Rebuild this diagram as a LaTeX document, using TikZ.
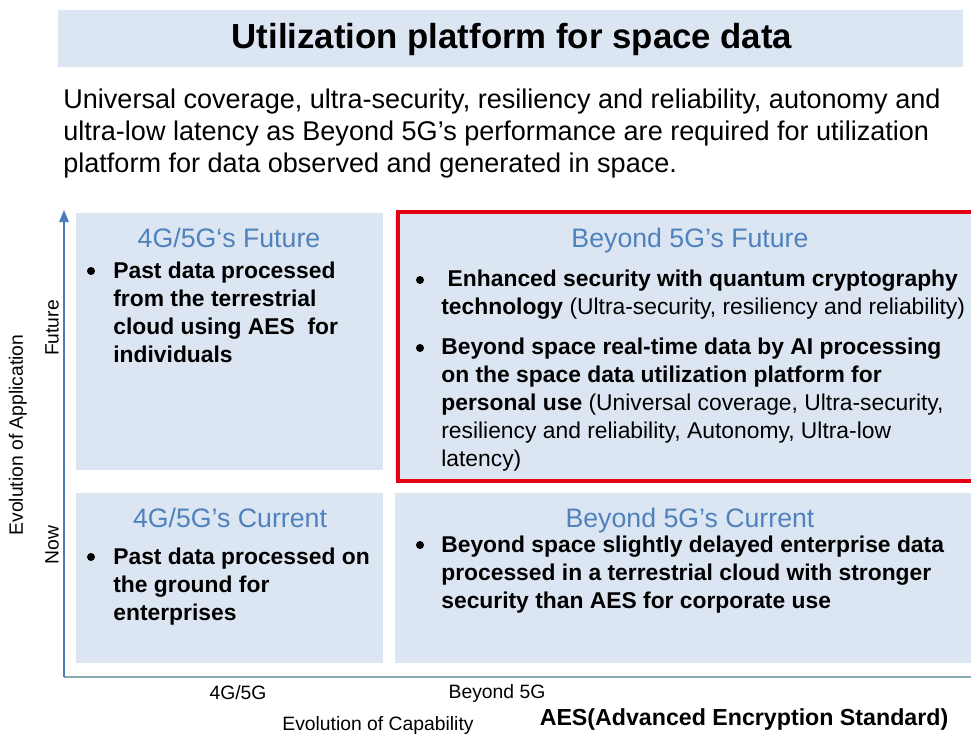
\documentclass[tikz,border=0pt]{standalone}
\usepackage{fontspec}
\setmainfont{Liberation Sans}
\usepackage{tikz}
\usetikzlibrary{arrows.meta}
\definecolor{panelfill}{RGB}{220,230,242}
\definecolor{headblue}{RGB}{79,129,189}
\definecolor{framered}{RGB}{228,0,18}
\definecolor{axisblue}{RGB}{74,126,187}
\definecolor{axisgray}{RGB}{138,168,176}
\tikzset{
  titletext/.style={inner sep=0pt,font=\fontsize{19.8}{24}\selectfont\bfseries},
  introtext/.style={anchor=north west,align=left,inner sep=0pt,font=\fontsize{15.4}{18.21}\selectfont},
  panelhead/.style={anchor=base,inner sep=0pt,text=headblue,font=\fontsize{15.2}{18}\selectfont},
  paneltext/.style={anchor=north west,align=left,inner sep=0pt,font=\fontsize{13}{15.93}\selectfont\bfseries},
  bulletmark/.style={circle,fill=black,inner sep=0pt,minimum size=0.16cm},
  axislabel/.style={inner sep=0pt,font=\fontsize{11}{13}\selectfont},
  axisarrow/.style={-{Triangle[length=0.24cm,width=0.19cm]},draw=axisblue,line width=0.85pt},
  axisline/.style={draw=axisgray,line width=0.9pt},
  redframe/.style={draw=framered,line width=2.3pt}
}

\begin{document}
\begin{tikzpicture}[x=0.02cm,y=-0.02cm]
  \useasboundingbox (0,0) rectangle (971,735);
  \fill[panelfill] (58,10) rectangle (963,67);
  \node[titletext] (title) at (512,39) {Utilization platform for space data};
  \node[introtext] (intro) at (63,89) {Universal coverage, ultra-security, resiliency and reliability, autonomy and\\
    ultra-low latency as Beyond 5G’s performance are required for utilization\\
    platform for data observed and generated in space.};

  \fill[panelfill] (76,213) rectangle (383,470);
  \fill[panelfill] (395,213) rectangle (971,480);
  \fill[panelfill] (76,493) rectangle (383,663);
  \fill[panelfill] (395,493) rectangle (971,663);
  \draw[redframe] (971,212) -- (398,212) -- (398,481) -- (971,481);

  \coordinate (origin) at (64,677);
  \coordinate (yend) at (64,210);
  \coordinate (xend) at (971,677);
  \draw[axisline] (origin) -- (xend);
  \draw[axisarrow] (origin) -- (yend);

  \node[panelhead] (headTL) at (229,247) {4G/5G‘s Future};
  \node[panelhead] (headTR) at (690,247) {Beyond 5G’s Future};
  \node[panelhead] (headBL) at (230,527) {4G/5G's Current};
  \node[panelhead] (headBR) at (690,527) {Beyond 5G’s Current};

  \node[bulletmark] (dotTL) at (91,271) {};
  \node[paneltext] (textTL) at (113,262) {Past data processed\\from the terrestrial\\cloud using AES~ for\\individuals};
  \node[bulletmark] (dotTRa) at (420,280) {};
  \node[paneltext] (textTRa) at (441,270) {~Enhanced security with quantum cryptography\\
    technology {\mdseries (Ultra-security, resiliency and reliability)}};
  \node[bulletmark] (dotTRb) at (420,348) {};
  \node[paneltext] (textTRb) at (441,338) {Beyond space real-time data by AI processing\\
    on the space data utilization platform for\\
    personal use {\mdseries (Universal coverage, Ultra-security,}\\
    {\mdseries resiliency and reliability, Autonomy, Ultra-low}\\
    {\mdseries latency)}};
  \node[bulletmark] (dotBL) at (91,557) {};
  \node[paneltext] (textBL) at (113,548) {Past data processed on\\the ground for\\enterprises};
  \node[bulletmark] (dotBR) at (420,545) {};
  \node[paneltext] (textBR) at (441,536) {Beyond space slightly delayed enterprise data\\
    processed in a terrestrial cloud with stronger\\
    security than AES for corporate use};

  \node[axislabel,rotate=90] (yaxis) at (18,435) {Evolution of Application};
  \node[axislabel,rotate=90] (future) at (52,328) {Future};
  \node[axislabel,rotate=90] (now) at (52,545) {Now};
  \node[axislabel] (cur) at (238,693) {4G/5G};
  \node[axislabel] (beyond) at (497,693) {Beyond 5G};
  \node[axislabel] (xaxis) at (378,725) {Evolution of Capability};
  \node[inner sep=0pt,font=\fontsize{13.2}{16}\selectfont\bfseries] (aes) at (744,719) {AES(Advanced Encryption Standard)};
\end{tikzpicture}
\end{document}
